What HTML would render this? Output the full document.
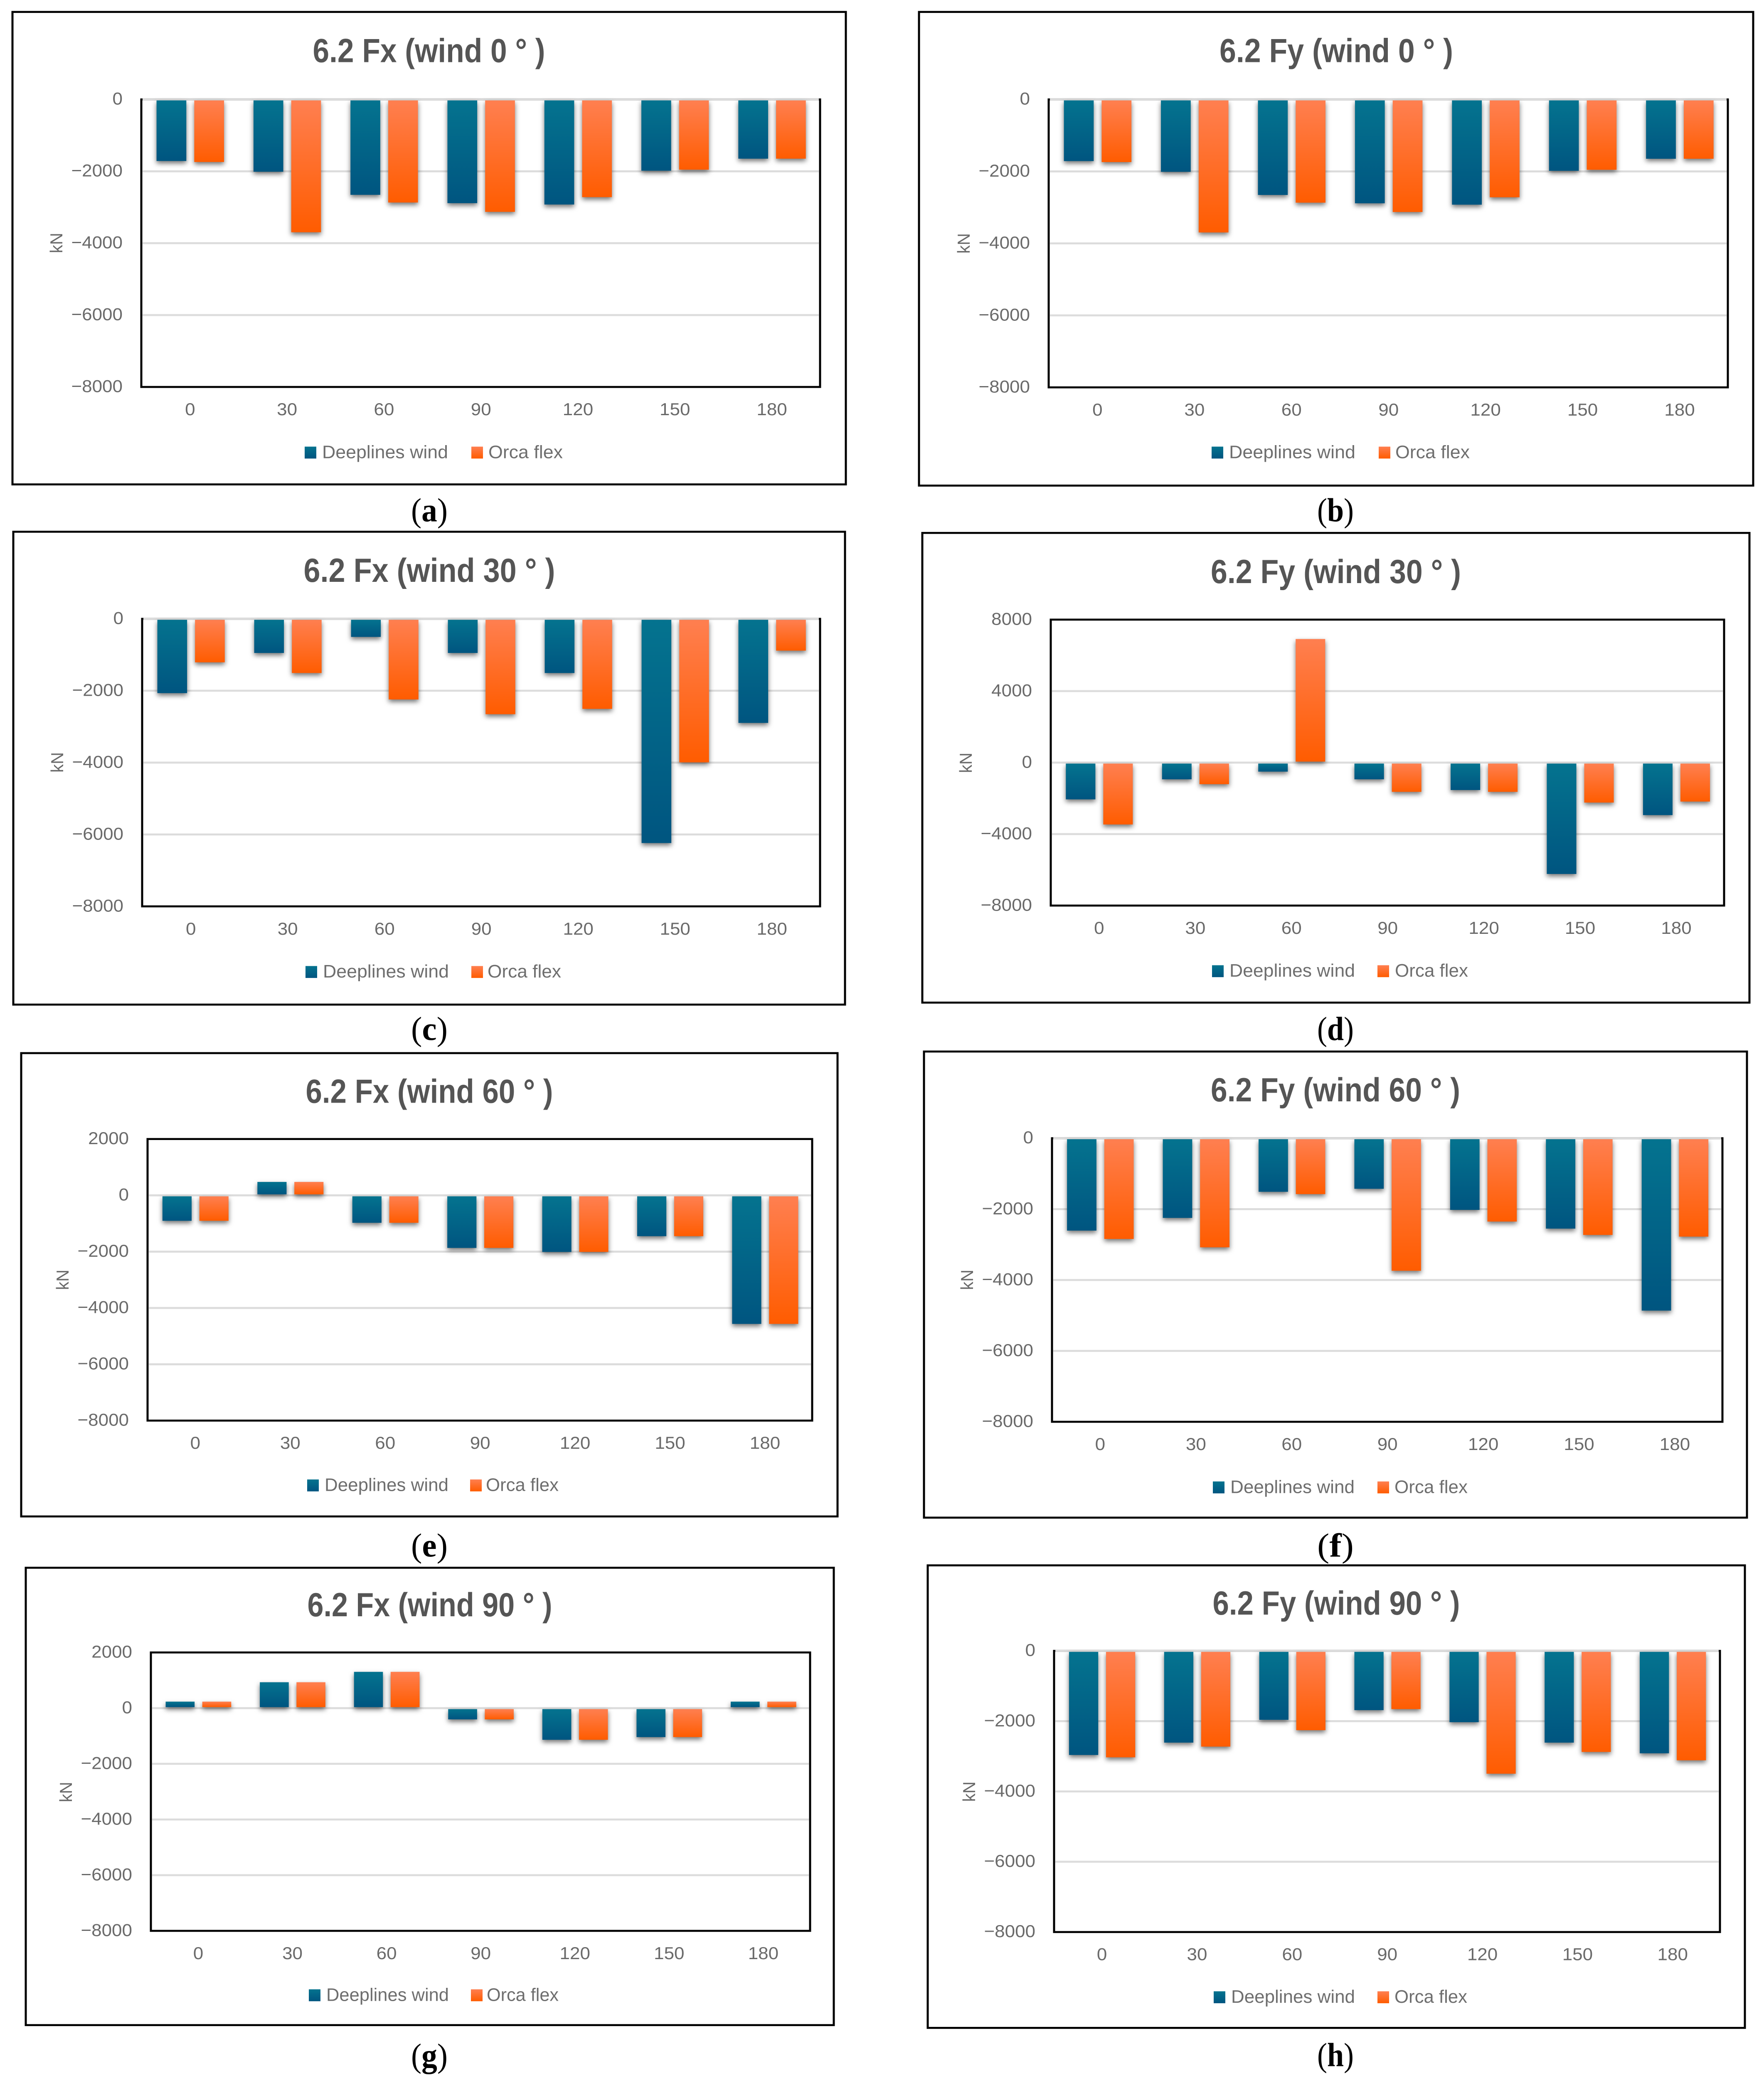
<!DOCTYPE html>
<html lang="en">
<head>
<meta charset="utf-8">
<title>6.2 Fx and Fy wind load charts</title>
<style>
html,body{margin:0;padding:0;background:#fff;overflow:hidden}
svg{display:block}
text{font-family:"Liberation Sans",sans-serif}
.frame{fill:#fff;stroke:#000;stroke-width:5}
.title{font-size:84px;font-weight:bold;fill:#555;text-anchor:middle}
.tick{font-size:44px;fill:#6a6a6a}
.legend{font-size:46px;fill:#6e6e6e}
.unit{font-size:42px;fill:#6a6a6a;text-anchor:middle}
.caption{font-family:"Liberation Serif",serif;font-size:84px;fill:#000;text-anchor:middle}
.caption tspan{font-weight:bold}
.grid{stroke:#dcdcdc;stroke-width:5}
.plot{fill:#fff;stroke:#000;stroke-width:5}
.bar{filter:drop-shadow(0 6px 6px rgba(0,0,0,.55))}
</style>
</head>
<body>
<svg id="figure" xmlns="http://www.w3.org/2000/svg" width="4244" height="5225" viewBox="0 0 4244 5225" preserveAspectRatio="none">
<defs>
<linearGradient id="grad-deeplines" x1="0" y1="0" x2="0" y2="1"><stop offset="0" stop-color="#04738f"/><stop offset="1" stop-color="#005580"/></linearGradient>
<linearGradient id="grad-orca" x1="0" y1="0" x2="0" y2="1"><stop offset="0" stop-color="#ff7f50"/><stop offset="1" stop-color="#ff5c00"/></linearGradient>
</defs>
<rect x="0" y="0" width="4244" height="5225" fill="#fff"/>

<g>
<rect class="frame" x="30" y="30" width="2005" height="1188"/>
<text class="title" x="1032" y="156" textLength="559" lengthAdjust="spacingAndGlyphs">6.2 Fx (wind 0 ° )</text>
<g id="plot-a"></g>
<text class="unit" transform="translate(150,611) rotate(-90)">kN</text>
<g>
<rect x="733" y="1123" width="28" height="30" fill="url(#grad-deeplines)"/>
<text class="legend" x="775" y="1152" textLength="303" lengthAdjust="spacingAndGlyphs">Deeplines wind</text>
<rect x="1134" y="1123" width="28" height="30" fill="url(#grad-orca)"/>
<text class="legend" x="1175" y="1152" textLength="179" lengthAdjust="spacingAndGlyphs">Orca flex</text>
</g>
<text class="caption" x="1033" y="1311" textLength="88" lengthAdjust="spacingAndGlyphs">(<tspan>a</tspan>)</text>
</g>

<g>
<rect class="frame" x="2211" y="30" width="2007" height="1191"/>
<text class="title" x="3215" y="156" textLength="562" lengthAdjust="spacingAndGlyphs">6.2 Fy (wind 0 ° )</text>
<g id="plot-b"></g>
<text class="unit" transform="translate(2333,612) rotate(-90)">kN</text>
<g>
<rect x="2915" y="1123" width="28" height="30" fill="url(#grad-deeplines)"/>
<text class="legend" x="2957" y="1152" textLength="304" lengthAdjust="spacingAndGlyphs">Deeplines wind</text>
<rect x="3317" y="1123" width="28" height="30" fill="url(#grad-orca)"/>
<text class="legend" x="3357" y="1152" textLength="179" lengthAdjust="spacingAndGlyphs">Orca flex</text>
</g>
<text class="caption" x="3213" y="1311" textLength="88" lengthAdjust="spacingAndGlyphs">(<tspan>b</tspan>)</text>
</g>

<g>
<rect class="frame" x="32" y="1337" width="2001" height="1189"/>
<text class="title" x="1033" y="1463" textLength="605" lengthAdjust="spacingAndGlyphs">6.2 Fx (wind 30 ° )</text>
<g id="plot-c"></g>
<text class="unit" transform="translate(152,1917) rotate(-90)">kN</text>
<g>
<rect x="735" y="2429" width="28" height="30" fill="url(#grad-deeplines)"/>
<text class="legend" x="777" y="2458" textLength="303" lengthAdjust="spacingAndGlyphs">Deeplines wind</text>
<rect x="1134" y="2429" width="28" height="30" fill="url(#grad-orca)"/>
<text class="legend" x="1173" y="2458" textLength="177" lengthAdjust="spacingAndGlyphs">Orca flex</text>
</g>
<text class="caption" x="1033" y="2615" textLength="88" lengthAdjust="spacingAndGlyphs">(<tspan>c</tspan>)</text>
</g>

<g>
<rect class="frame" x="2219" y="1340" width="1990" height="1181"/>
<text class="title" x="3214" y="1466" textLength="602" lengthAdjust="spacingAndGlyphs">6.2 Fy (wind 30 ° )</text>
<g id="plot-d"></g>
<text class="unit" transform="translate(2338,1918) rotate(-90)">kN</text>
<g>
<rect x="2916" y="2427" width="28" height="30" fill="url(#grad-deeplines)"/>
<text class="legend" x="2958" y="2456" textLength="302" lengthAdjust="spacingAndGlyphs">Deeplines wind</text>
<rect x="3314" y="2427" width="28" height="30" fill="url(#grad-orca)"/>
<text class="legend" x="3356" y="2456" textLength="176" lengthAdjust="spacingAndGlyphs">Orca flex</text>
</g>
<text class="caption" x="3213" y="2615" textLength="88" lengthAdjust="spacingAndGlyphs">(<tspan>d</tspan>)</text>
</g>

<g>
<rect class="frame" x="51" y="2648" width="1964" height="1165"/>
<text class="title" x="1033" y="2773" textLength="595" lengthAdjust="spacingAndGlyphs">6.2 Fx (wind 60 ° )</text>
<g id="plot-e"></g>
<text class="unit" transform="translate(165,3218) rotate(-90)">kN</text>
<g>
<rect x="739" y="3720" width="28" height="30" fill="url(#grad-deeplines)"/>
<text class="legend" x="781" y="3749" textLength="298" lengthAdjust="spacingAndGlyphs">Deeplines wind</text>
<rect x="1131" y="3720" width="28" height="30" fill="url(#grad-orca)"/>
<text class="legend" x="1169" y="3749" textLength="175" lengthAdjust="spacingAndGlyphs">Orca flex</text>
</g>
<text class="caption" x="1033" y="3914" textLength="88" lengthAdjust="spacingAndGlyphs">(<tspan>e</tspan>)</text>
</g>

<g>
<rect class="frame" x="2223" y="2644" width="1980" height="1172"/>
<text class="title" x="3213" y="2769" textLength="600" lengthAdjust="spacingAndGlyphs">6.2 Fy (wind 60 ° )</text>
<g id="plot-f"></g>
<text class="unit" transform="translate(2341,3218) rotate(-90)">kN</text>
<g>
<rect x="2918" y="3725" width="28" height="30" fill="url(#grad-deeplines)"/>
<text class="legend" x="2960" y="3754" textLength="299" lengthAdjust="spacingAndGlyphs">Deeplines wind</text>
<rect x="3314" y="3725" width="28" height="30" fill="url(#grad-orca)"/>
<text class="legend" x="3355" y="3754" textLength="176" lengthAdjust="spacingAndGlyphs">Orca flex</text>
</g>
<text class="caption" x="3213" y="3914" textLength="88" lengthAdjust="spacingAndGlyphs">(<tspan>f</tspan>)</text>
</g>

<g>
<rect class="frame" x="62" y="3942" width="1944" height="1150"/>
<text class="title" x="1034" y="4064" textLength="589" lengthAdjust="spacingAndGlyphs">6.2 Fx (wind 90 ° )</text>
<g id="plot-g"></g>
<text class="unit" transform="translate(173,4506) rotate(-90)">kN</text>
<g>
<rect x="743" y="5002" width="28" height="30" fill="url(#grad-deeplines)"/>
<text class="legend" x="785" y="5031" textLength="295" lengthAdjust="spacingAndGlyphs">Deeplines wind</text>
<rect x="1133" y="5002" width="28" height="30" fill="url(#grad-orca)"/>
<text class="legend" x="1171" y="5031" textLength="173" lengthAdjust="spacingAndGlyphs">Orca flex</text>
</g>
<text class="caption" x="1033" y="5197" textLength="88" lengthAdjust="spacingAndGlyphs">(<tspan>g</tspan>)</text>
</g>

<g>
<rect class="frame" x="2232" y="3936" width="1966" height="1163"/>
<text class="title" x="3215" y="4060" textLength="595" lengthAdjust="spacingAndGlyphs">6.2 Fy (wind 90 ° )</text>
<g id="plot-h"></g>
<text class="unit" transform="translate(2346,4505) rotate(-90)">kN</text>
<g>
<rect x="2920" y="5007" width="28" height="30" fill="url(#grad-deeplines)"/>
<text class="legend" x="2962" y="5036" textLength="298" lengthAdjust="spacingAndGlyphs">Deeplines wind</text>
<rect x="3314" y="5007" width="28" height="30" fill="url(#grad-orca)"/>
<text class="legend" x="3355" y="5036" textLength="175" lengthAdjust="spacingAndGlyphs">Orca flex</text>
</g>
<text class="caption" x="3213" y="5195" textLength="88" lengthAdjust="spacingAndGlyphs">(<tspan>h</tspan>)</text>
</g>
</svg>

<script>
// Chart data
const categories = ["0", "30", "60", "90", "120", "150", "180"];

const ticksNegative = [0, -2000, -4000, -6000, -8000];
const ticksWide = [8000, 4000, 0, -4000, -8000];
const ticksPositive = [2000, 0, -2000, -4000, -6000, -8000];

const fxWind0Deeplines = [-1713, -2011, -2654, -2886, -2924, -1983, -1648];
const fxWind0Orca = [-1741, -3696, -2868, -3128, -2719, -1955, -1648];

const fyWind0Deeplines = [-1713, -2011, -2654, -2886, -2924, -1983, -1648];
const fyWind0Orca = [-1741, -3696, -2868, -3128, -2719, -1955, -1648];

const fxWind30Deeplines = [-2067, -950, -503, -950, -1508, -6238, -2896];
const fxWind30Orca = [-1210, -1508, -2244, -2654, -2505, -3994, -885];

const fyWind30Deeplines = [-2058, -935, -505, -935, -1534, -6231, -2938];
const fyWind30Orca = [-3462, -1207, 6914, -1637, -1637, -2236, -2180];

const fxWind60Deeplines = [-904, 476, -975, -1867, -2010, -1451, -4566];
const fxWind60Orca = [-904, 476, -975, -1867, -2010, -1451, -4566];

const fyWind60Deeplines = [-2606, -2248, -1511, -1426, -2021, -2550, -4863];
const fyWind60Orca = [-2842, -3078, -1577, -3739, -2351, -2729, -2776];

const fxWind90Deeplines = [233, 930, 1303, -404, -1137, -1040, 233];
const fxWind90Orca = [233, 930, 1303, -404, -1137, -1040, 233];

const fyWind90Deeplines = [-2962, -2610, -1962, -1686, -2029, -2610, -2914];
const fyWind90Orca = [-3029, -2724, -2257, -1657, -3495, -2876, -3114];

// Plot-box layout for each panel
const charts = [
  {id: "a", left: 340,  right: 1973, top: 250,  bottom: 973,  ticks: ticksNegative, deeplines: fxWind0Deeplines,  orca: fxWind0Orca},
  {id: "b", left: 2523, right: 4157, top: 250,  bottom: 974,  ticks: ticksNegative, deeplines: fyWind0Deeplines,  orca: fyWind0Orca},
  {id: "c", left: 342,  right: 1973, top: 1556, bottom: 2279, ticks: ticksNegative, deeplines: fxWind30Deeplines, orca: fxWind30Orca},
  {id: "d", left: 2528, right: 4148, top: 1558, bottom: 2277, ticks: ticksWide,     deeplines: fyWind30Deeplines, orca: fyWind30Orca},
  {id: "e", left: 355,  right: 1954, top: 2864, bottom: 3572, ticks: ticksPositive, deeplines: fxWind60Deeplines, orca: fxWind60Orca},
  {id: "f", left: 2531, right: 4144, top: 2862, bottom: 3575, ticks: ticksNegative, deeplines: fyWind60Deeplines, orca: fyWind60Orca},
  {id: "g", left: 363,  right: 1949, top: 4155, bottom: 4855, ticks: ticksPositive, deeplines: fxWind90Deeplines, orca: fxWind90Orca},
  {id: "h", left: 2536, right: 4138, top: 4151, bottom: 4858, ticks: ticksNegative, deeplines: fyWind90Deeplines, orca: fyWind90Orca}
];

const SVG_NS = "http://www.w3.org/2000/svg";

// Keep the whole figure inside a viewport that is slightly shorter than the nominal height.
const figure = document.getElementById("figure");
if (window.innerHeight >= 4000 && window.innerHeight < 5225) {
  figure.setAttribute("height", window.innerHeight);
}

function make(tag, attrs, parent) {
  const node = document.createElementNS(SVG_NS, tag);
  for (const key in attrs) node.setAttribute(key, attrs[key]);
  parent.appendChild(node);
  return node;
}

function formatTick(v) {
  return v < 0 ? "\u2212" + Math.abs(v) : String(v);
}

function drawBars(series, seriesName, fill, startFraction, x, y, catW, group) {
  const barW = catW * 0.307;
  series.forEach(function (value, i) {
    const zero = y(0);
    const end = y(value);
    const y1 = value < 0 ? zero + 2.5 : end;
    const y2 = value < 0 ? end : zero - 2.5;
    const el = make("rect", {
      class: "bar",
      x: x(i) + catW * startFraction,
      y: y1,
      width: barW,
      height: Math.max(0, y2 - y1),
      fill: fill
    }, group);
    
    
  });
}

charts.forEach(function (c) {
  const group = document.getElementById("plot-" + c.id);
  const maxV = c.ticks[0];
  const minV = c.ticks[c.ticks.length - 1];
  const y = function (v) { return c.top + (maxV - v) / (maxV - minV) * (c.bottom - c.top); };
  const catW = (c.right - c.left) / categories.length;
  const x = function (i) { return c.left + i * catW; };

  const box = make("rect", {class: "plot", x: c.left, y: c.top, width: c.right - c.left, height: c.bottom - c.top}, group);
  
  

  c.ticks.forEach(function (t) {
    if (t !== minV && (t !== maxV || t === 0)) {
      const line = make("line", {class: "grid", x1: c.left + 3, x2: c.right - 3, y1: y(t), y2: y(t)}, group);
      
      
    }
    const label = make("text", {class: "tick", x: c.left - 45, y: y(t) + 13, "text-anchor": "end"}, group);
    label.textContent = formatTick(t);
    
    
  });

  categories.forEach(function (name, i) {
    const label = make("text", {class: "tick", x: x(i) + catW * 0.503, y: c.bottom + 71, "text-anchor": "middle"}, group);
    label.textContent = name;
    
    
  });

  drawBars(c.deeplines, "deeplines", "url(#grad-deeplines)", 0.157, x, y, catW, group);
  drawBars(c.orca, "orca", "url(#grad-orca)", 0.546, x, y, catW, group);
});
</script>
</body>
</html>
